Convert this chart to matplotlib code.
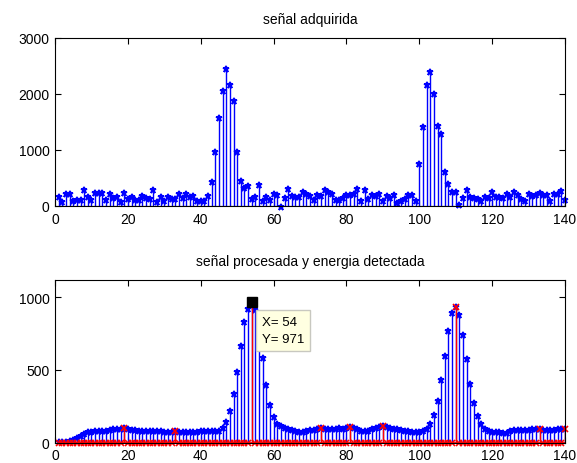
import numpy as np
import matplotlib
matplotlib.use("Agg")
import matplotlib.pyplot as plt

plt.rcParams['font.family'] = ['Liberation Sans', 'DejaVu Sans']

# sample index
n = np.arange(1, 141)

# acquired signal
raw = [161, 71, 209, 209, 89, 107, 107, 280, 161, 107,
       227, 227, 239, 107, 220, 143, 161, 71, 227, 119,
       161, 107, 107, 179, 143, 119, 280, 71, 161, 89,
       161, 131, 119, 209, 143, 209, 161, 185, 95, 95,
       95, 180, 432, 964, 1565, 2054, 2441, 2161, 1882, 964,
       450, 328, 350, 132, 155, 370, 89, 161, 107, 221,
       196, -15, 150, 298, 180, 165, 160, 257, 215, 180,
       107, 200, 176, 283, 245, 209, 115, 115, 150, 196,
       196, 209, 304, 89, 286, 132, 196, 173, 221, 89,
       173, 150, 196, 61, 89, 132, 196, 196, 89, 755,
       1415, 2161, 2400, 1993, 1435, 1290, 605, 395, 248, 257,
       25, 137, 280, 161, 137, 119, 89, 161, 137, 257,
       161, 161, 137, 209, 161, 257, 196, 119, 89, 209,
       179, 196, 239, 196, 196, 89, 209, 209, 268, 115]

# processed signal (energy)
energy = [4, 5, 6, 8, 18, 34, 46, 59, 69, 73,
          76, 78, 80, 80, 85, 92, 94, 96, 99, 94,
          87, 84, 82, 80, 80, 80, 80, 80, 80, 73,
          72, 74, 80, 72, 72, 72, 72, 73, 74, 76,
          78, 78, 78, 78, 80, 100, 140, 215, 331, 485,
          662, 830, 920, 971, 910, 760, 580, 398, 256, 176,
          128, 113, 101, 92, 87, 78, 73, 73, 78, 83,
          87, 92, 99, 95, 92, 92, 95, 97, 95, 100,
          104, 98, 90, 82, 80, 82, 90, 100, 110, 115,
          105, 98, 95, 92, 87, 82, 77, 73, 73, 73,
          80, 92, 126, 191, 288, 432, 596, 771, 895, 935,
          877, 744, 574, 406, 273, 184, 127, 90, 78, 73,
          73, 73, 66, 66, 78, 83, 87, 87, 87, 87,
          90, 92, 94, 87, 87, 87, 87, 90, 92, 94]

# indices where energy peaks were detected
detected = [19, 33, 54, 73, 81, 90, 110, 133, 140]

# data cursor
cursor_x = 54
cursor_y = 971

raw = np.array(raw)
energy = np.array(energy)
marks = np.zeros_like(energy)
for k in detected:
    marks[k - 1] = energy[k - 1]

fig = plt.figure(figsize=(5.77, 4.64), dpi=100)
ax1 = fig.add_axes([55 / 577, 1 - 207 / 464, 510 / 577, 168 / 464])
ax2 = fig.add_axes([55 / 577, 1 - 443.5 / 464, 510 / 577, 162.5 / 464])


def style(ax):
    ax.tick_params(direction='in', top=True, right=True, length=4,
                   labelsize=10, pad=4, width=0.8)
    for s in ax.spines.values():
        s.set_linewidth(0.8)
        s.set_color('black')


# top: acquired signal
ml, sl, bl = ax1.stem(n, raw, linefmt='b-', markerfmt='b*', basefmt='k-')
sl.set_linewidth(1.0)
ml.set_markersize(4.5)
ml.set_markeredgewidth(1.2)
ml.set_clip_on(False)
bl.set_linewidth(0.8)
ax1.set_xlim(0, 140)
ax1.set_ylim(0, 3000)
ax1.set_xticks(np.arange(0, 141, 20))
ax1.set_yticks([0, 1000, 2000, 3000])
ax1.set_title('señal adquirida', fontsize=10, pad=11)
style(ax1)

# bottom: processed signal and detected energy
ml, sl, bl = ax2.stem(n, energy, linefmt='b-', markerfmt='b*', basefmt='k-')
sl.set_linewidth(1.0)
ml.set_markersize(4.5)
ml.set_markeredgewidth(1.2)
bl.set_visible(False)
ml2, sl2, bl2 = ax2.stem(n, marks, linefmt='r-', markerfmt='rx', basefmt='r-')
sl2.set_linewidth(1.0)
ml2.set_markersize(5)
ml2.set_markeredgewidth(1.2)
ml2.set_clip_on(False)
bl2.set_linewidth(2)
ax2.plot([cursor_x], [cursor_y], marker='s', color='black', markersize=7.5,
         clip_on=False, zorder=5)
ax2.annotate(f'X= {cursor_x}\nY= {cursor_y}', xy=(cursor_x, cursor_y),
             xytext=(10, -14), textcoords='offset pixels', ha='left', va='top',
             fontsize=9.5, linespacing=1.65, zorder=6,
             bbox=dict(boxstyle='square,pad=0.45', fc='#FFFFE1', ec='#C8C8C0', lw=1))
ax2.set_xlim(0, 140)
ax2.set_ylim(0, 1120)
ax2.set_xticks(np.arange(0, 141, 20))
ax2.set_yticks([0, 500, 1000])
ax2.set_title('señal procesada y energia detectada', fontsize=10, pad=11)
style(ax2)

fig.savefig('out.png', dpi=100)
